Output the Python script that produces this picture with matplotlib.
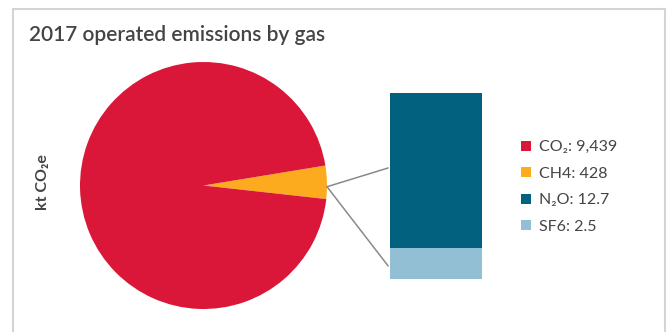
import matplotlib.pyplot as plt
from matplotlib.patches import Patch, ConnectionPatch
from matplotlib.lines import Line2D

plt.rcParams['font.family'] = ['Lato', 'DejaVu Sans']

gases = ['CO₂', 'CH4', 'N₂O', 'SF6']
values = [9439, 428, 12.7, 2.5]
value_labels = ['9,439', '428', '12.7', '2.5']
colors = ['#DA1639', '#FBAB1D', '#01617E', '#93BFD5']

W, H = 668, 332
fig = plt.figure(figsize=(W / 100, H / 100), dpi=100)


def box(x0, y0, x1, y1):
    # pixel box (top-left origin) -> figure fraction rect
    return [x0 / W, 1 - y1 / H, (x1 - x0) / W, (y1 - y0) / H]


# panel border (no bottom edge visible)
for xs, ys in [((13, 13), (9, 340)), ((13, 665), (9, 9)), ((665, 665), (9, 340))]:
    fig.add_artist(Line2D([x / W for x in xs], [1 - y / H for y in ys],
                          color='#d4d4d4', lw=1.5, transform=fig.transFigure))

fig.text(29 / W, 1 - 35 / H, '2017 operated emissions by gas', fontsize=15,
         color='#444444', fontweight='semibold', va='center', ha='left')
fig.text(43 / W, 1 - 182 / H, 'kt CO₂e', fontsize=11.5, color='#444444',
         fontweight='bold', rotation=90, va='center', ha='center')

# pie: CH4 and CO2 (N2O + SF6 are too small to see and go to the bar)
other = values[2] + values[3]
ax_pie = fig.add_axes(box(80, 62, 327, 309))
ch4_deg = 360 * values[1] / sum(values[:2])
ax_pie.pie([values[1], values[0]], colors=[colors[1], colors[0]],
           startangle=-ch4_deg / 2 + 1.5, counterclock=True, radius=1,
           wedgeprops=dict(linewidth=0))
ax_pie.set_xlim(-1, 1)
ax_pie.set_ylim(-1, 1)
ax_pie.set_aspect('equal')
ax_pie.axis('off')

# bar of the small gases
ax_bar = fig.add_axes(box(390, 93, 482, 279))
ax_bar.bar(0, values[3], width=1, color=colors[3])
ax_bar.bar(0, values[2], bottom=values[3], width=1, color=colors[2])
ax_bar.set_xlim(-0.5, 0.5)
ax_bar.set_ylim(0, other)
ax_bar.axis('off')

# connector lines
for yfrac in [0.597, 0.07]:
    con = ConnectionPatch(xyA=(1.0, -0.01), coordsA=ax_pie.transData,
                          xyB=(-0.02, yfrac), coordsB=ax_bar.transAxes,
                          color='#8a8a8a', lw=1.1)
    fig.add_artist(con)

handles = [Patch(facecolor=c, edgecolor='none') for c in colors]
labels = [f'{g}: {v}' for g, v in zip(gases, value_labels)]
fig.legend(handles, labels, loc='upper left', bbox_to_anchor=(515 / W, 1 - 134 / H),
           frameon=False, fontsize=11.5, labelcolor='#444444',
           handlelength=0.62, handleheight=0.62, handletextpad=0.5,
           labelspacing=0.78, borderaxespad=0)

fig.savefig('out.png', dpi=100)
